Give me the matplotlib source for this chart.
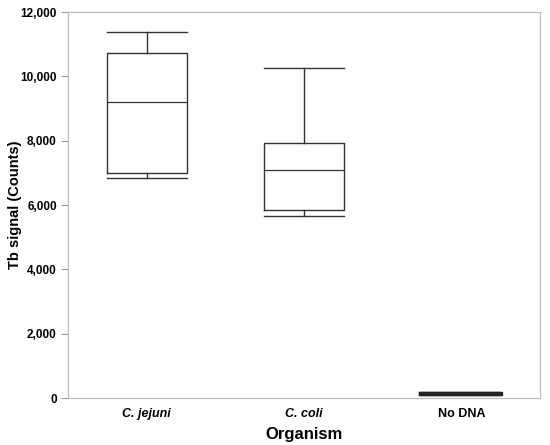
import numpy as np
import matplotlib.pyplot as plt

plt.rcParams['font.family'] = ['Liberation Sans', 'DejaVu Sans']

organisms = ["C. jejuni", "C. coli", "No DNA"]
whislo = [6830, 5670, 110]
q1 = [7000, 5860, 110]
med = [9190, 7075, 110]
q3 = [10720, 7920, 110]
whishi = [11390, 10250, 110]

stats = []
for i in range(len(organisms)):
    stats.append(dict(whislo=whislo[i], q1=q1[i], med=med[i], q3=q3[i],
                      whishi=whishi[i], fliers=[], label=organisms[i]))

fig = plt.figure(figsize=(5.5, 4.45), dpi=100)
ax = fig.add_axes([0.1236, 0.1056, 0.8582, 0.8674])

line = dict(color='#333333', linewidth=1.0)
ax.bxp(stats[:2], positions=[1, 2], widths=0.51, showfliers=False,
       boxprops=line, whiskerprops=line, capprops=line,
       medianprops=dict(color='#333333', linewidth=0.9), capwidths=0.51)
thick = dict(color='#222222', linewidth=3.0)
ax.bxp(stats[2:], positions=[3], widths=0.51, showfliers=False,
       boxprops=thick, whiskerprops=thick, capprops=thick,
       medianprops=thick, capwidths=0.51)

ax.set_xlim(0.5, 3.5)
ax.set_ylim(0, 12000)
ax.set_yticks(np.arange(0, 12001, 2000))
ax.set_yticklabels([f"{v:,}" for v in range(0, 12001, 2000)],
                   fontsize=8.5, fontweight='bold')
ax.set_xticks([1, 2, 3])
ax.set_xticklabels(organisms, fontsize=9, fontweight='bold')
for lbl in ax.get_xticklabels()[:2]:
    lbl.set_fontstyle('italic')
ax.tick_params(axis='x', length=0, pad=7)
ax.tick_params(axis='y', length=5, color='#999999', width=0.8, pad=3)
for s in ax.spines.values():
    s.set_color('#bbbbbb')
    s.set_linewidth(0.9)

fig.text(15 / 550, 0.5 * 0.8674 + 0.1056, "Tb signal (Counts)", rotation=90,
         ha='center', va='center', fontsize=10.5, fontweight='bold')
ax.set_xlabel("Organism", fontsize=12, fontweight='bold', labelpad=5)

fig.savefig("out.png", dpi=100)
